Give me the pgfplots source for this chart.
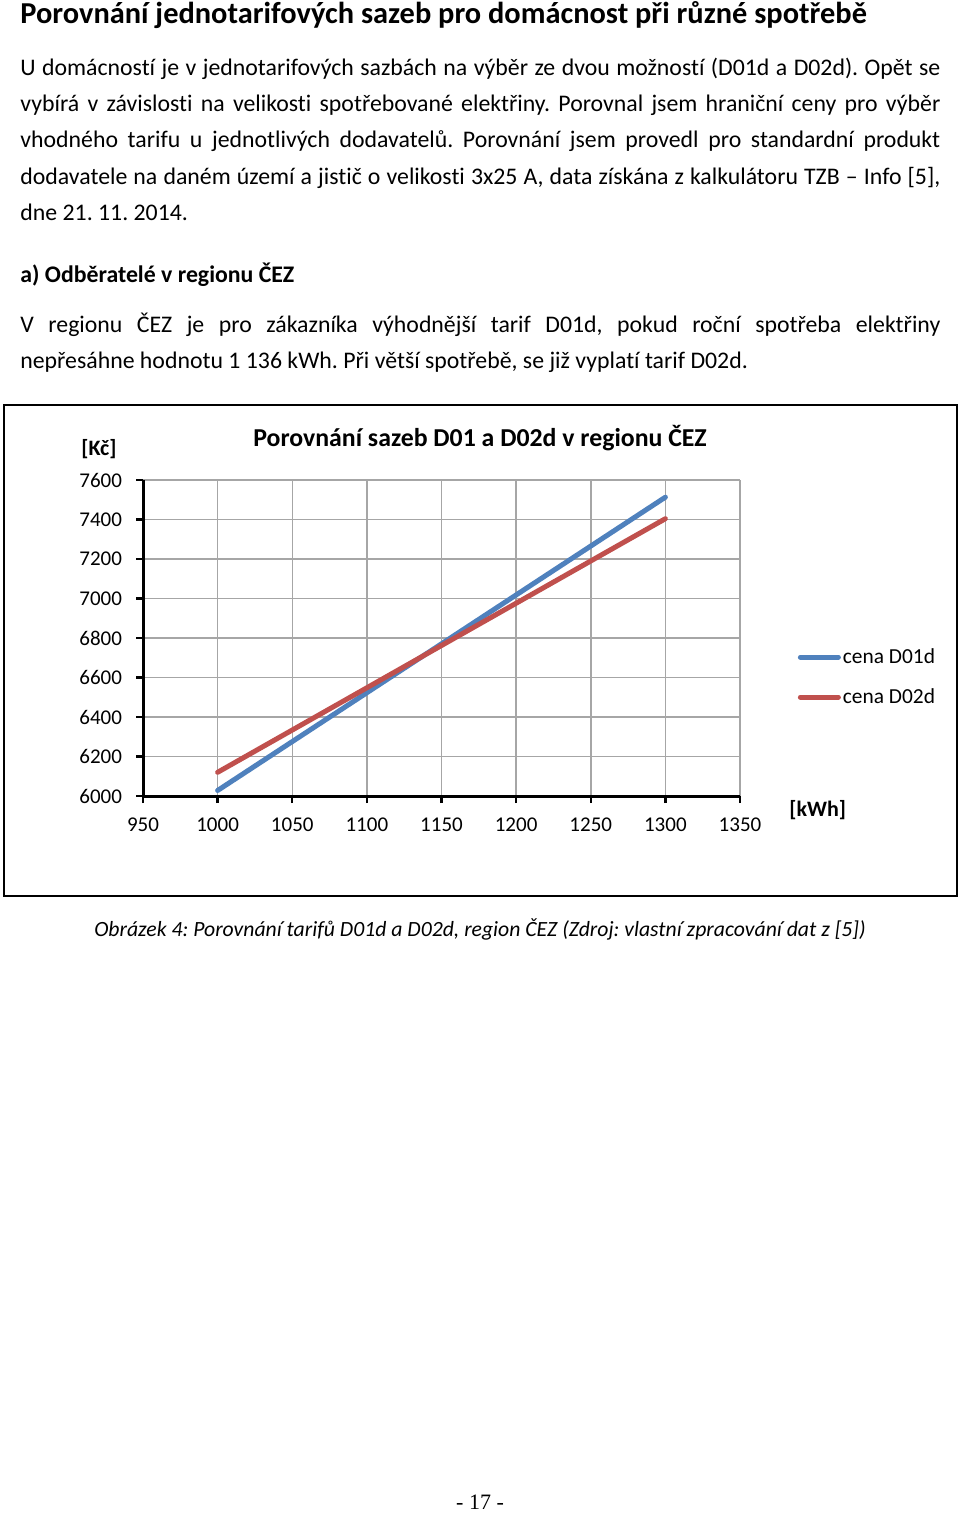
\documentclass[border=0pt]{standalone}
\usepackage{fontspec}
\setmainfont{Carlito}[Ligatures=NoCommon]
\newfontfamily\timesfont{Liberation Serif}
\usepackage{pgfplots}
\pgfplotsset{compat=1.18}
\definecolor{cenaA}{HTML}{4F81BD}
\definecolor{cenaB}{HTML}{C0504D}
\definecolor{mrizka}{HTML}{A6A6A6}
\newcommand{\radek}[1]{\makebox[460pt][s]{#1}}
\frenchspacing
\begin{document}
\begin{tikzpicture}[x=0.5pt,y=-0.5pt]
\fill[white] (0,0) rectangle (960,1513);
% nadpis a text
\node[anchor=base west,inner sep=0] at (20,24) {\fontsize{15.2}{18}\selectfont\bfseries Porovnání jednotarifových sazeb pro domácnost při různé spotřebě};
\begin{scope}[every node/.style={anchor=base west,inner sep=0,font=\fontsize{11.9}{14}\selectfont}]
\node at (20,76) {\radek{U domácností je v jednotarifových sazbách na výběr ze dvou možností (D01d a D02d). Opět se}};
\node at (20,112) {\radek{vybírá v závislosti na velikosti spotřebované elektřiny. Porovnal jsem hraniční ceny pro výběr}};
\node at (20,148) {\radek{vhodného tarifu u jednotlivých dodavatelů. Porovnání jsem provedl pro standardní produkt}};
\node at (20,185) {\radek{dodavatele na daném území a jistič o velikosti 3x25 A, data získána z kalkulátoru TZB -- Info [5],}};
\node at (20,221) {dne 21. 11. 2014.};
\node at (20,283) {\bfseries a) Odběratelé v regionu ČEZ};
\node at (20,333) {\radek{V regionu ČEZ je pro zákazníka výhodnější tarif D01d, pokud roční spotřeba elektřiny}};
\node at (20,369) {nepřesáhne hodnotu 1 136 kWh. Při větší spotřebě, se již vyplatí tarif D02d.};
\end{scope}
% ramecek grafu
\draw[line width=1pt] (4,405) rectangle (957,896);
\node[anchor=base,inner sep=0,font=\fontsize{12.9}{15}\selectfont\bfseries] at (480,446) {Porovnání sazeb D01 a D02d v regionu ČEZ};
\node[anchor=base,inner sep=0,font=\fontsize{11}{13}\selectfont\bfseries] at (99,456) {[Kč]};
\node[anchor=base west,inner sep=0,font=\fontsize{11}{13}\selectfont\bfseries] at (789,816) {[kWh]};
\coordinate (pocatek) at (143,796);
\begin{axis}[
    at={(pocatek)}, anchor=south west,
    scale only axis,
    width=298.5pt, height=158pt,
    xmin=950, xmax=1350, ymin=6000, ymax=7600,
    xtick distance=50, ytick distance=200,
    axis lines*=left,
    axis line style={black, line width=1.5pt},
    grid=major,
    major grid style={mrizka, line width=0.75pt},
    tick align=outside,
    major tick length=3.5pt,
    tick style={black, line width=1.2pt},
    /pgf/number format/1000 sep={},
    /pgf/number format/assume math mode=true,
    ticklabel style={font=\fontsize{10.5}{12}\selectfont},
    yticklabel style={xshift=-3.5pt},
    xticklabel style={yshift=-4pt},
    legend cell align=left,
    legend style={draw=none, fill=none, inner sep=0pt,
        at={(axis description cs:1.0963,0.475)}, anchor=north west,
        row sep=9pt,
        nodes={inner sep=1pt, font=\fontsize{10.7}{12}\selectfont}},
    legend image code/.code={\draw[#1, line cap=round] (0pt,0pt) -- (19pt,0pt);},
]
\addplot[cenaA, line width=2.5pt, line cap=round] coordinates {(1000,6028) (1300,7513)};
\addlegendentry{cena D01d}
\addplot[cenaB, line width=2.5pt, line cap=round] coordinates {(1000,6120) (1300,7404)};
\addlegendentry{cena D02d}
\end{axis}
\node[anchor=base,inner sep=0,font=\fontsize{10.85}{13}\selectfont\itshape] at (480,936) {Obrázek 4: Porovnání tarifů D01d a D02d, region ČEZ (Zdroj: vlastní zpracování dat z [5])};
\node[anchor=base,inner sep=0,font=\timesfont\fontsize{11}{13}\selectfont] at (480,1509) {- 17 -};
\end{tikzpicture}
\end{document}
